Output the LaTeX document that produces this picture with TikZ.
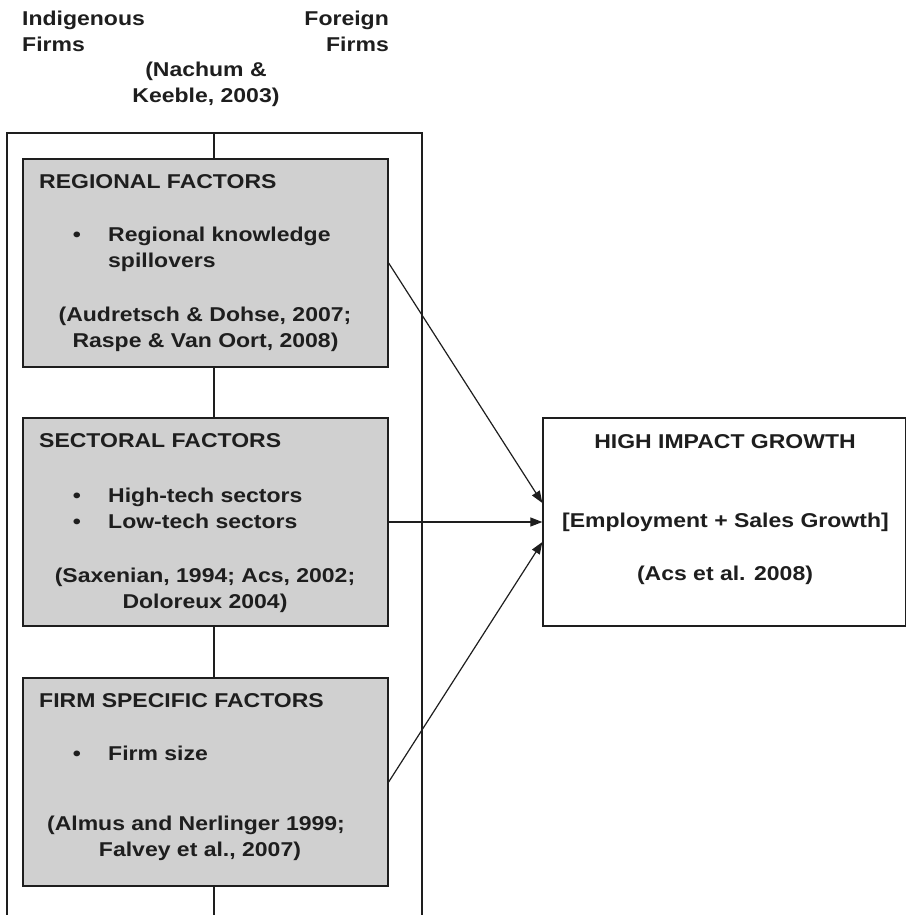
\documentclass[tikz,border=0pt]{standalone}
\usepackage{fontspec}
\setmainfont{Liberation Sans}[FakeStretch=1.15]
\usetikzlibrary{arrows.meta}
\definecolor{boxgray}{RGB}{208,208,208}
\definecolor{ink}{RGB}{30,30,30}
\begin{document}
\begin{tikzpicture}[x=1pt,y=-1pt,
  txt/.style={inner sep=0pt, text=ink, font=\fontsize{20}{26}\selectfont\bfseries},
  factor/.style={draw=ink, line width=1.3pt, fill=boxgray, minimum width=365pt, minimum height=208pt, inner sep=0pt},
  outcome/.style={draw=ink, line width=1.3pt, fill=white, minimum width=363pt, minimum height=208pt, inner sep=0pt},
  frameline/.style={draw=ink, line width=1.2pt},
  arr/.style={draw=ink, line width=1.2pt, -{Triangle[length=12pt,width=9pt]}}
]
\useasboundingbox (0,0) rectangle (905,915);
% frame
\coordinate (fbl) at (7,916);
\coordinate (ftl) at (7,133);
\coordinate (ftr) at (422,133);
\coordinate (fbr) at (422,916);
\coordinate (ctop) at (214,133);
\coordinate (cbot) at (214,916);
\draw[frameline] (fbl) -- (ftl) -- (ftr) -- (fbr);
% boxes
\node[factor] (b1) at (205.5,263) {};
\node[factor] (b2) at (205.5,522) {};
\node[factor] (b3) at (205.5,782) {};
\node[outcome] (hig) at (724.5,522) {};
% center line
\draw[frameline] (ctop) -- (ctop |- b1.north);
\draw[frameline] (ctop |- b1.south) -- (ctop |- b2.north);
\draw[frameline] (ctop |- b2.south) -- (ctop |- b3.north);
\draw[frameline] (ctop |- b3.south) -- (cbot);
% arrows
\draw[arr] (b1.east) -- ([yshift=19pt]hig.west);
\draw[arr] (b2.east) -- (hig.west);
\draw[arr] (b3.east) -- ([yshift=-20pt]hig.west);
% header texts
\node[txt, anchor=base west] (t1) at (22,26) {Indigenous};
\node[txt, anchor=base west] (t2) at (22,52) {Firms};
\node[txt, anchor=base east] (t3) at (389,26) {Foreign};
\node[txt, anchor=base east] (t4) at (389,52) {Firms};
\node[txt, anchor=base] (t5) at (206,77) {(Nachum \&};
\node[txt, anchor=base] (t6) at (206,103) {Keeble, 2003)};
% box 1
\node[txt, anchor=base west] (r1) at (39,188) {REGIONAL FACTORS};
\node[txt, anchor=base] (r2) at (77,241) {•};
\node[txt, anchor=base west] (r3) at (108,241) {Regional knowledge};
\node[txt, anchor=base west] (r4) at (108,267) {spillovers};
\node[txt, anchor=base] (r5) at (205,321) {(Audretsch \& Dohse, 2007;};
\node[txt, anchor=base] (r6) at (205.5,347) {Raspe \& Van Oort, 2008)};
% box 2
\node[txt, anchor=base west] (s1) at (39,447) {SECTORAL FACTORS};
\node[txt, anchor=base] (s2) at (77,502) {•};
\node[txt, anchor=base west] (s3) at (108,502) {High-tech sectors};
\node[txt, anchor=base] (s4) at (77,528) {•};
\node[txt, anchor=base west] (s5) at (108,528) {Low-tech sectors};
\node[txt, anchor=base] (s6) at (205,582) {(Saxenian, 1994; Acs, 2002;};
\node[txt, anchor=base] (s7) at (205,608) {Doloreux 2004)};
% box 3
\node[txt, anchor=base west] (f1) at (39,707) {FIRM SPECIFIC FACTORS};
\node[txt, anchor=base] (f2) at (77,760) {•};
\node[txt, anchor=base west] (f3) at (108,760) {Firm size};
\node[txt, anchor=base] (f4) at (196,830) {(Almus and Nerlinger 1999;};
\node[txt, anchor=base] (f5) at (200,856) {Falvey et al., 2007)};
% outcome
\node[txt, anchor=base] (h1) at (725,448) {HIGH IMPACT GROWTH};
\node[txt, anchor=base west] (h2) at (562,527) {[Employment + Sales Growth]};
\node[txt, anchor=base] (h3) at (725,580) {(Acs et al. 2008)};
\end{tikzpicture}
\end{document}
